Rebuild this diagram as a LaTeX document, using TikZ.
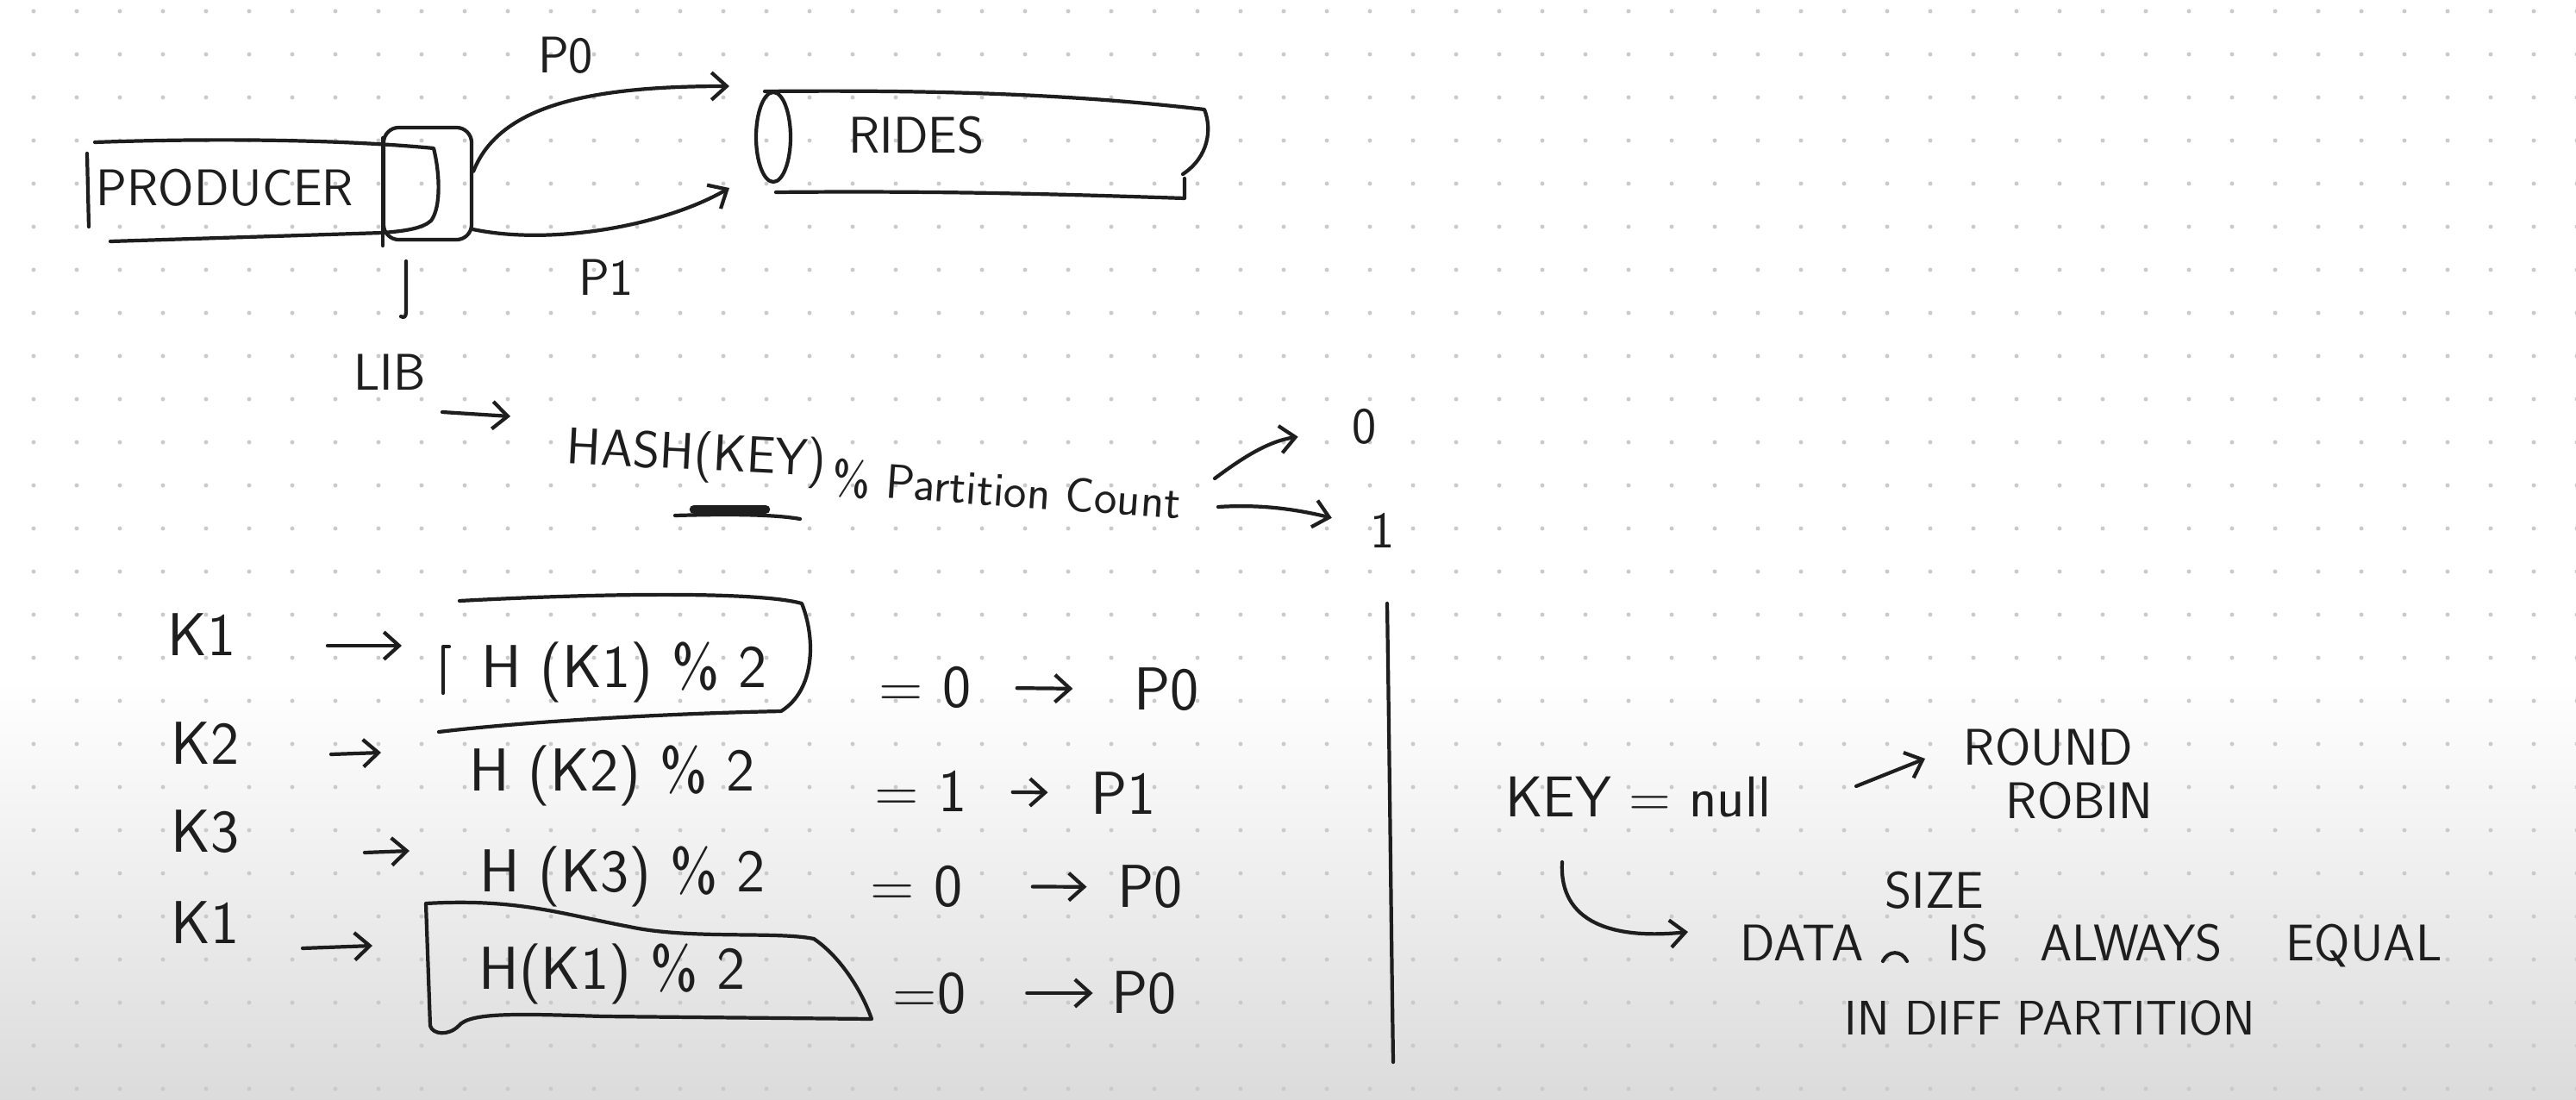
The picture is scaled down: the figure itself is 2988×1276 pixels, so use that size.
\documentclass[tikz,border=0pt]{standalone}
\usepackage{tikz}
\usetikzlibrary{arrows.meta}
\definecolor{inkc}{HTML}{1E1E1E}
\definecolor{dotc}{HTML}{CACACA}

\begin{document}
\begin{tikzpicture}[x=0.01cm, y=-0.01cm,
  ink/.style={draw=inkc, line width=1.2pt, line cap=round, line join=round},
  arr/.style={ink, -{Straight Barb[length=5pt, width=9pt]}},
  lbl/.style={text=inkc, inner sep=0pt, font=\sffamily\fontsize{17}{20}\selectfont},
  rowtxt/.style={text=inkc, inner sep=0pt, font=\sffamily\fontsize{20}{24}\selectfont}]
  \useasboundingbox (0,0) rectangle (2988,1276);
  \fill[white] (0,0) rectangle (2988,1276);
  \shade[top color=white, bottom color=black!14] (0,790) rectangle (2988,1276);
  \foreach \i in {0,...,59}
    \foreach \j in {0,...,25}
      \fill[dotc] (39+50*\i, 13+50*\j) circle (0.7pt);

  % producer, partitions and topic
  \node[lbl] (producer) at (261,218) {PRODUCER};
  \node[draw=inkc, line width=1.2pt, rounded corners=5pt, minimum width=1.02cm, minimum height=1.3cm, inner sep=0pt] (part) at (496,213) {};
  \draw[ink] (101,178) -- (103,263);
  \draw[ink] (110,165) .. controls (250,160) and (400,162) .. (503,172) .. controls (510,200) and (512,240) .. (500,256) .. controls (490,265) and (470,268) .. (444,270) -- (128,280);
  \draw[ink] (444,160) -- (444,285);
  \node[lbl] (rides) at (1063,157) {RIDES};
  \draw[ink] (897,159) ellipse (20 and 52);
  \draw[ink] (887,106) .. controls (1100,104) and (1250,110) .. (1397,127) .. controls (1406,150) and (1402,182) .. (1372,202);
  \draw[ink] (900,223) .. controls (1100,221) and (1250,226) .. (1374,230) -- (1374,207);
  \node[lbl] (p0top) at (656,64) {P0};
  \node[lbl] (p1top) at (703,322) {P1};
  \coordinate (r0) at (846,100);
  \coordinate (r1) at (846,218);
  \draw[arr] (part.15) .. controls (580,120) and (690,100) .. (r0);
  \draw[arr] (part.-45) .. controls (640,285) and (770,262) .. (r1);
  \draw[ink] (471,303) -- (471,362) .. controls (471,368) and (468,369) .. (465,367);

  % hash of the key
  \node[lbl] (lib) at (452,432) {LIB};
  \coordinate (la) at (513,478);
  \coordinate (lb) at (592,483);
  \draw[arr] (la) -- (lb);
  \node[lbl, rotate=-3] (hash) at (808,530) {HASH(KEY)};
  \node[lbl, rotate=-4, font=\sffamily\fontsize{16}{19}\selectfont] (pcount) at (1168,568) {\% Partition Count};
  \draw[ink] (783,598) .. controls (850,596) and (900,597) .. (928,602);
  \draw[ink, line width=3pt] (805,591) -- (888,591);
  \node[lbl] (zero) at (1583,495) {0};
  \node[lbl] (one) at (1604,615) {1};
  \coordinate (c0) at (1409,555);
  \coordinate (c1) at (1413,588);
  \draw[arr, shorten >=18pt] (c0) .. controls (1440,532) and (1470,512) .. (zero);
  \draw[arr, shorten >=13pt] (c1) .. controls (1460,585) and (1500,590) .. (one);
  \draw[ink] (1609,700) .. controls (1612,900) and (1614,1100) .. (1616,1232);

  % keys to partitions
  \node[rowtxt] (k1a) at (234,736) {K1};
  \node[rowtxt] (k2) at (238,862) {K2};
  \node[rowtxt] (k3) at (238,965) {K3};
  \node[rowtxt] (k1b) at (238,1070) {K1};
  \node[rowtxt] (h1) at (724,780) {H (K1) \% 2};
  \node[rowtxt] (h2) at (710,900) {H (K2) \% 2};
  \node[rowtxt] (h3) at (722,1017) {H (K3) \% 2};
  \node[rowtxt] (h4) at (710,1130) {H(K1) \% 2};
  \node[rowtxt] (eq1) at (1073,797) {= 0};
  \node[rowtxt] (eq2) at (1068,918) {= 1};
  \node[rowtxt] (eq3) at (1063,1028) {= 0};
  \node[rowtxt] (eq4) at (1078,1152) {=0};
  \node[rowtxt] (pa) at (1353,800) {P0};
  \node[rowtxt] (pb) at (1303,920) {P1};
  \node[rowtxt] (pc) at (1334,1029) {P0};
  \node[rowtxt] (pd) at (1327,1152) {P0};
  \coordinate (ka1) at (380,749);
  \coordinate (kb1) at (466,749);
  \coordinate (ka2) at (384,875);
  \coordinate (kb2) at (442,873);
  \coordinate (ka3) at (423,989);
  \coordinate (kb3) at (475,987);
  \coordinate (ka4) at (351,1100);
  \coordinate (kb4) at (432,1097);
  \draw[arr] (ka1) -- (kb1);
  \draw[arr] (ka2) -- (kb2);
  \draw[arr] (ka3) -- (kb3);
  \draw[arr] (ka4) -- (kb4);
  \draw[arr, shorten <=15pt, shorten >=20pt] (eq1) -- (pa);
  \draw[arr, shorten <=15pt, shorten >=14pt] (eq2) -- (pb);
  \draw[arr, shorten <=23pt, shorten >=10pt] (eq3) -- (pc);
  \draw[arr, shorten <=20pt, shorten >=6pt] (eq4) -- (pd);
  \draw[ink] (521,750) -- (514,750) -- (514,804);
  \draw[ink] (533,697) .. controls (700,688) and (880,686) .. (930,700) .. controls (946,740) and (946,800) .. (906,825) .. controls (760,828) and (600,838) .. (509,849);
  \draw[ink] (494,1048) .. controls (600,1042) and (650,1060) .. (730,1075) .. controls (800,1090) and (900,1080) .. (944,1089) .. controls (975,1110) and (1000,1150) .. (1011,1182) -- (700,1179) .. controls (600,1176) and (545,1174) .. (532,1190) .. controls (520,1202) and (502,1200) .. (499,1190) -- cycle;

  % null key
  \node[rowtxt, font=\sffamily\fontsize{19}{23}\selectfont] (keynull) at (1900,925) {KEY = null};
  \node[lbl] (round) at (2376,867) {ROUND};
  \node[lbl] (robin) at (2412,929) {ROBIN};
  \coordinate (kn) at (2153,912);
  \coordinate (rr) at (2233,880);
  \draw[arr] (kn) -- (rr);
  \coordinate (kc) at (1812,1000);
  \coordinate (kd) at (1958,1081);
  \draw[arr] (kc) .. controls (1808,1070) and (1870,1090) .. (kd);
  \node[lbl] (size) at (2244,1033) {SIZE};
  \node[lbl, anchor=west] (data) at (2018,1097) {DATA\hspace{28pt}IS\hspace{17pt}ALWAYS\hspace{21pt}EQUAL};
  \draw[ink] (2184,1115) .. controls (2190,1102) and (2206,1102) .. (2212,1115);
  \node[lbl, font=\sffamily\fontsize{16}{19}\selectfont] (diff) at (2378,1181) {IN DIFF PARTITION};
\end{tikzpicture}
\end{document}
